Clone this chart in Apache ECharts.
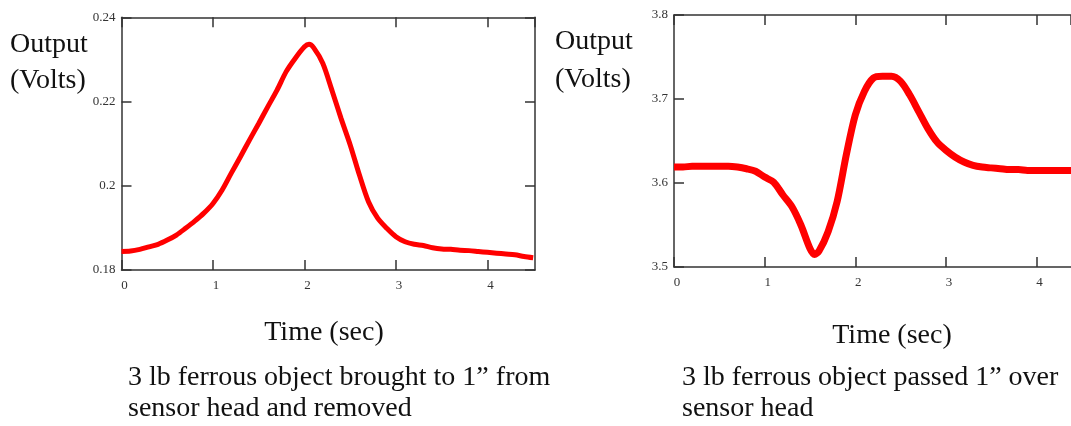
<!DOCTYPE html>
<html>
<head>
<meta charset="utf-8">
<script src="https://cdn.jsdelivr.net/npm/echarts@6/dist/echarts.min.js"></script>
<style>
  html, body { margin: 0; padding: 0; background: #ffffff; }
  #chart { width: 1071px; height: 426px; }
</style>
</head>
<body>
<div id="chart"></div>
<script>
// ---- Data ----
const leftTime  = [0.0,0.1,0.2,0.3,0.4,0.5,0.6,0.7,0.8,0.9,1.0,1.1,1.2,1.3,1.4,1.5,1.6,1.7,1.8,1.9,2.0,2.05,2.1,2.2,2.3,2.4,2.5,2.6,2.7,2.8,2.9,3.0,3.1,3.2,3.3,3.4,3.5,3.6,3.7,3.8,3.9,4.0,4.1,4.2,4.3,4.4,4.5];
const leftVolts = [0.1844,0.1845,0.1849,0.1855,0.1861,0.1871,0.1883,0.1899,0.1916,0.1935,0.1958,0.1990,0.2030,0.2069,0.2109,0.2148,0.2188,0.2227,0.2271,0.2303,0.2330,0.2336,0.2328,0.2291,0.2227,0.2160,0.2097,0.2026,0.1962,0.1923,0.1899,0.1879,0.1867,0.1861,0.1858,0.1853,0.1850,0.1849,0.1847,0.1846,0.1844,0.1842,0.1840,0.1838,0.1836,0.1832,0.1829];

const rightTime  = [0.0,0.1,0.2,0.3,0.4,0.5,0.6,0.7,0.8,0.9,1.0,1.1,1.2,1.3,1.4,1.5,1.55,1.6,1.7,1.8,1.9,2.0,2.1,2.2,2.3,2.4,2.5,2.6,2.7,2.8,2.9,3.0,3.1,3.2,3.3,3.4,3.5,3.6,3.7,3.8,3.9,4.0,4.1,4.2,4.3,4.4,4.5];
const rightVolts = [3.619,3.619,3.620,3.620,3.620,3.620,3.620,3.619,3.617,3.614,3.607,3.601,3.586,3.572,3.550,3.522,3.515,3.519,3.542,3.578,3.633,3.681,3.709,3.725,3.727,3.727,3.721,3.705,3.685,3.665,3.649,3.639,3.631,3.625,3.621,3.619,3.618,3.617,3.616,3.616,3.615,3.615,3.615,3.615,3.615,3.615,3.615];

const leftYRange  = [0.18, 0.24, 0.02];
const rightYRange = [3.5, 3.8, 0.1];
const xRangeLeft  = [0, 4.52, 1];
const xRangeRight = [0, 4.38, 1];   // visible part of the right panel (cut at the picture edge)

const axisLabelTitle = 'Output';
const axisLabelUnit  = '(Volts)';
const xTitle = 'Time (sec)';
const leftCaption  = ['3 lb ferrous object brought to 1\u201D from', 'sensor head and removed'];
const rightCaption = ['3 lb ferrous object passed 1\u201D over', 'sensor head'];

// ---- Styling ----
const FRAME = '#333333';
const SERIF = '"Liberation Serif", "DejaVu Serif", serif';
const lineAx = { show: true, onZero: false, lineStyle: { color: FRAME, width: 1.5 } };
const tickIn = { show: true, inside: true, length: 10, lineStyle: { color: FRAME, width: 1.5 } };
const lbl = { fontFamily: SERIF, fontSize: 13, color: '#333' };

function xAxes(gridIndex, r) {
  return [
    { type: 'value', gridIndex, position: 'bottom', min: r[0], max: r[1], interval: r[2],
      axisLine: lineAx, axisTick: tickIn, splitLine: { show: false },
      axisLabel: Object.assign({ margin: 9, showMaxLabel: false, padding: [0, 0, 0, 6] }, lbl) },
    { type: 'value', gridIndex, position: 'top', min: r[0], max: r[1], interval: r[2],
      axisLine: lineAx, axisTick: tickIn, splitLine: { show: false }, axisLabel: { show: false } }
  ];
}
function yAxes(gridIndex, r, showRight) {
  return [
    { type: 'value', gridIndex, position: 'left', min: r[0], max: r[1], interval: r[2],
      axisLine: lineAx, axisTick: tickIn, splitLine: { show: false },
      axisLabel: Object.assign({ margin: 6 }, lbl) },
    { type: 'value', gridIndex, position: 'right', min: r[0], max: r[1], interval: r[2],
      axisLine: Object.assign({}, lineAx, { show: showRight }),
      axisTick: Object.assign({}, tickIn, { show: showRight }),
      splitLine: { show: false }, axisLabel: { show: false } }
  ];
}

function txt(x, y, s, align) {
  return { type: 'text', x, y, silent: true,
    style: { text: s, fill: '#111', font: '28px ' + SERIF, align: align || 'left', verticalAlign: 'middle' } };
}

const chart = echarts.init(document.getElementById('chart'), null, { renderer: 'canvas' });
chart.setOption({
  animation: false,
  backgroundColor: '#ffffff',
  grid: [
    { left: 121.5, top: 17.3, width: 413.5, height: 252.7, containLabel: false },
    { left: 674, top: 15, right: 0, height: 252, containLabel: false }
  ],
  xAxis: [...xAxes(0, xRangeLeft), ...xAxes(1, xRangeRight)],
  yAxis: [...yAxes(0, leftYRange, true), ...yAxes(1, rightYRange, false)],
  series: [
    { type: 'line', xAxisIndex: 0, yAxisIndex: 0, showSymbol: false, smooth: 0.3,
      data: leftTime.map((t, i) => [t, leftVolts[i]]),
      lineStyle: { color: '#ff0000', width: 5 }, itemStyle: { color: '#ff0000' } },
    { type: 'line', xAxisIndex: 2, yAxisIndex: 2, showSymbol: false, smooth: 0.3,
      data: rightTime.map((t, i) => [t, rightVolts[i]]),
      lineStyle: { color: '#ff0000', width: 7 }, itemStyle: { color: '#ff0000' } }
  ],
  graphic: [
    txt(10, 44.5, axisLabelTitle),
    txt(10, 81, axisLabelUnit),
    txt(555, 41.5, axisLabelTitle),
    txt(555, 79.5, axisLabelUnit),
    txt(324, 333, xTitle, 'center'),
    txt(892, 336, xTitle, 'center'),
    txt(128, 378, leftCaption[0]),
    txt(128, 409, leftCaption[1]),
    txt(682, 378, rightCaption[0]),
    txt(682, 409, rightCaption[1])
  ]
});
</script>
</body>
</html>
